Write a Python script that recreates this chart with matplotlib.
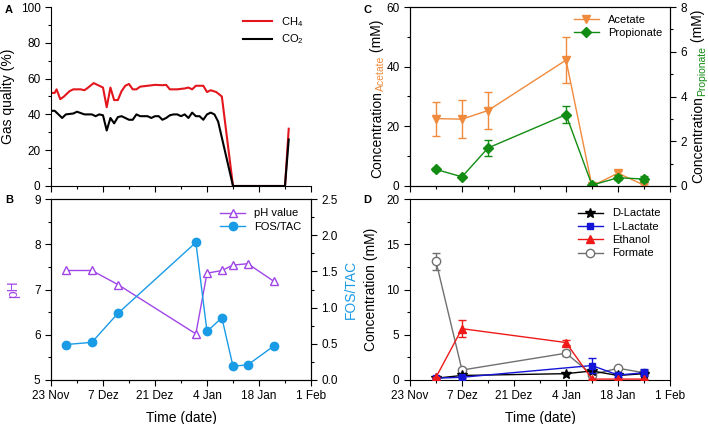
import matplotlib
matplotlib.use("Agg")
import matplotlib.pyplot as plt
import matplotlib.dates as mdates
from matplotlib.ticker import MultipleLocator, AutoMinorLocator
import numpy as np
import pandas as pd

plt.rcParams['font.family'] = ['Liberation Sans', 'DejaVu Sans']
plt.rcParams['mathtext.fontset'] = 'custom'
plt.rcParams['mathtext.rm'] = 'Liberation Sans'
plt.rcParams['mathtext.it'] = 'Liberation Sans'

START = '2016-11-23'

# panel A: gas quality, days after 23 Nov
gas_days = [0, 1, 1.5, 2.5, 3.5, 5, 6, 8, 9, 10, 11.5, 13, 14, 15, 16, 17, 18, 19, 20, 21,
            22, 23, 24, 26, 28, 30, 31, 32, 34, 36, 37, 38, 39, 41, 42, 43, 44.5, 46, 49, 63, 64]
ch4 = [52, 52, 54, 48.5, 50, 53, 54, 54, 53.5, 55, 57.5, 56, 55, 44, 55, 48, 48, 53, 56, 57,
       54, 54, 55.5, 56, 56.5, 56.3, 56.5, 54, 54, 54.5, 55, 54, 56, 56, 52.5, 53.5, 52.5, 50, 0, 0, 32]
co2_days = [0, 1, 3, 4, 6, 7, 9, 11, 12, 13, 14, 15, 16, 17, 18, 19, 21, 22, 23, 24, 26, 27,
            28, 29, 30, 31, 32, 33, 34, 35, 36, 37, 38, 39, 40, 41, 42, 43, 44, 45, 49, 63, 64]
co2 = [42, 42, 38, 40, 40.5, 41.5, 40, 40, 39, 40, 39.5, 31, 38, 35, 38.5, 39, 37, 37, 40, 39,
       39, 38, 39, 39, 37, 38, 39.5, 40, 40, 39, 40, 38, 41, 39, 39, 37, 40, 41, 40, 36, 0, 0, 26]

# panel B: pH and FOS/TAC
b_dates = ['2016-11-27', '2016-12-04', '2016-12-11', '2017-01-01', '2017-01-04',
           '2017-01-08', '2017-01-11', '2017-01-15', '2017-01-22']
ph = [7.42, 7.42, 7.11, 6.02, 7.36, 7.42, 7.54, 7.57, 7.18]
fos_tac = [0.49, 0.52, 0.92, 1.90, 0.67, 0.86, 0.19, 0.21, 0.47]

# panels C and D: sampling dates
cd_dates = ['2016-11-30', '2016-12-07', '2016-12-14', '2017-01-04',
            '2017-01-11', '2017-01-18', '2017-01-25']
acetate = [22.6, 22.4, 25.3, 42.2, 0.0, 4.3, 0.3]
acetate_err = [5.7, 6.3, 6.1, 7.7, 0.3, 0.8, 0.3]
propionate = [0.74, 0.41, 1.70, 3.19, 0.04, 0.37, 0.31]
propionate_err = [0.05, 0.05, 0.36, 0.37, 0.05, 0.1, 0.15]

d_lac_dates = ['2016-11-30', '2016-12-07', '2017-01-04', '2017-01-11', '2017-01-18', '2017-01-25']
d_lactate = [0.2, 0.5, 0.7, 1.0, 0.5, 0.7]
l_lac_dates = ['2016-11-30', '2016-12-07', '2017-01-11', '2017-01-18', '2017-01-25']
l_lactate = [0.2, 0.3, 1.6, 0.55, 0.8]
l_lactate_err = [0.05, 0.1, 0.8, 0.2, 0.4]
e_dates = ['2016-11-30', '2016-12-07', '2017-01-04', '2017-01-11', '2017-01-18', '2017-01-25']
ethanol = [0.3, 5.67, 4.14, 0.1, 0.1, 0.1]
ethanol_err = [0.05, 0.95, 0.3, 0.05, 0.05, 0.05]
f_dates = ['2016-11-30', '2016-12-07', '2017-01-04', '2017-01-11', '2017-01-18', '2017-01-25']
formate = [13.1, 1.1, 2.96, 0.6, 1.3, 0.8]
formate_err = [0.9, 0.1, 0.3, 0.1, 0.1, 0.3]

tick_dates = ['2016-11-23', '2016-12-07', '2016-12-21', '2017-01-04', '2017-01-18', '2017-02-01']
tick_labels = ['23 Nov', '7 Dez', '21 Dez', '4 Jan', '18 Jan', '1 Feb']

c_red = '#e3161e'
c_purple = '#a046e8'
c_blue_ft = '#1a9be6'
c_orange = '#f08a3c'
c_green = '#138c13'
c_lblue = '#1515d8'
c_eth = '#ee1a1a'
c_grey = '#707070'


def dates(lst):
    return pd.to_datetime(lst).to_numpy()


def days_to_dates(days):
    return (pd.Timestamp(START) + pd.to_timedelta(np.asarray(days, float), unit='D')).to_numpy()


W, H = 708, 424
fig = plt.figure(figsize=(W / 100, H / 100), dpi=100)


def add_ax(l, t, r, b):
    return fig.add_axes([l / W, 1 - b / H, (r - l) / W, (b - t) / H])


axA = add_ax(51, 7, 311, 186)
axB = add_ax(51, 199, 311, 380)
axC = add_ax(410, 7, 670, 186)
axD = add_ax(410, 199, 670, 380)

tsize = 8.5
lsize = 10


def style_x(ax, labels=True):
    ax.set_xlim(dates(['2016-11-23'])[0], dates(['2017-02-01'])[0])
    ax.set_xticks(mdates.date2num(dates(tick_dates)))
    if labels:
        ax.set_xticklabels(tick_labels)
        ax.set_xlabel('Time (date)', fontsize=lsize, labelpad=6)
    else:
        ax.set_xticklabels([])
    ax.xaxis.set_minor_locator(AutoMinorLocator(2))


def style_ticks(ax):
    ax.tick_params(which='major', direction='out', length=4, width=0.8, labelsize=tsize)
    ax.tick_params(which='minor', direction='out', length=2, width=0.8)
    ax.tick_params(top=False, right=False, which='both')


leg_kw = dict(loc='upper right', frameon=False, fontsize=8, handlelength=2.3,
              labelspacing=0.3, borderaxespad=0.45)

# ---- A
axA.plot(days_to_dates(gas_days), ch4, color=c_red, lw=1.5, label='CH$_4$')
axA.plot(days_to_dates(co2_days), co2, color='black', lw=1.5, label='CO$_2$')
axA.set_ylim(0, 100)
axA.yaxis.set_major_locator(MultipleLocator(20))
axA.yaxis.set_minor_locator(MultipleLocator(10))
style_x(axA, labels=False)
style_ticks(axA)
axA.spines['top'].set_visible(False)
axA.spines['right'].set_visible(False)
axA.set_ylabel('Gas quality (%)', fontsize=lsize, labelpad=4)
axA.legend(loc='upper right', frameon=False, fontsize=8, handlelength=2.6,
           labelspacing=0.35, borderaxespad=0.3)

# ---- B
axB2 = axB.twinx()
l1, = axB.plot(dates(b_dates), ph, color=c_purple, lw=1, marker='^', ms=6,
               mfc='white', mec=c_purple, label='pH value')
l2, = axB2.plot(dates(b_dates), fos_tac, color=c_blue_ft, lw=1, marker='o', ms=6,
                label='FOS/TAC')
axB.set_ylim(5, 9)
axB.yaxis.set_major_locator(MultipleLocator(1))
axB.yaxis.set_minor_locator(MultipleLocator(0.5))
axB2.set_ylim(0, 2.5)
axB2.yaxis.set_major_locator(MultipleLocator(0.5))
axB2.yaxis.set_minor_locator(MultipleLocator(0.25))
axB2.yaxis.set_major_formatter(plt.FormatStrFormatter('%.1f'))
style_x(axB)
style_ticks(axB)
style_ticks(axB2)
axB2.tick_params(right=True, which='both')
axB.set_ylabel('pH', fontsize=lsize, color=c_purple, labelpad=10)
axB2.set_ylabel('FOS/TAC', fontsize=lsize, color=c_blue_ft, labelpad=4)
axB2.legend(handles=[l1, l2], **leg_kw)

# ---- C
axC2 = axC.twinx()
ea = axC.errorbar(dates(cd_dates), acetate, yerr=acetate_err, color=c_orange, lw=1,
                  marker='v', ms=6, capsize=3, elinewidth=1, capthick=1)
ep = axC2.errorbar(dates(cd_dates), propionate, yerr=propionate_err, color=c_green, lw=1,
                   marker='D', ms=5, capsize=3, elinewidth=1, capthick=1)
axC.set_ylim(0, 60)
axC.yaxis.set_major_locator(MultipleLocator(20))
axC.yaxis.set_minor_locator(MultipleLocator(10))
axC2.set_ylim(0, 8)
axC2.yaxis.set_major_locator(MultipleLocator(2))
axC2.yaxis.set_minor_locator(MultipleLocator(1))
style_x(axC, labels=False)
style_ticks(axC)
style_ticks(axC2)
axC2.tick_params(right=True, which='both')
axC2.legend([ea[0], ep[0]], ['Acetate', 'Propionate'], loc='upper right',
            frameon=False, fontsize=8, handlelength=2.3, labelspacing=0.3, borderaxespad=0.3)

# ---- D
ef = axD.errorbar(dates(f_dates), formate, yerr=formate_err, color=c_grey, lw=1, marker='o', ms=6,
                  mfc='white', mec=c_grey, capsize=3, elinewidth=1, capthick=1, zorder=2)
ld, = axD.plot(dates(d_lac_dates), d_lactate, color='black', lw=1, marker='*', ms=7, zorder=3)
el = axD.errorbar(dates(l_lac_dates), l_lactate, yerr=l_lactate_err, color=c_lblue, lw=1,
                  marker='s', ms=5, capsize=3, elinewidth=1, capthick=1, zorder=4)
ee = axD.errorbar(dates(e_dates), ethanol, yerr=ethanol_err, color=c_eth, lw=1, marker='^', ms=6,
                  capsize=3, elinewidth=1, capthick=1, zorder=5)
axD.set_ylim(0, 20)
axD.yaxis.set_major_locator(MultipleLocator(5))
axD.yaxis.set_minor_locator(MultipleLocator(2.5))
style_x(axD)
style_ticks(axD)
axD.set_ylabel('Concentration (mM)', fontsize=lsize, labelpad=6)
axD.legend([ld, el[0], ee[0], ef[0]], ['D-Lactate', 'L-Lactate', 'Ethanol', 'Formate'], **leg_kw)

# multi-coloured rotated labels for panel C
renderer = fig.canvas.get_renderer()


def vlabel(x_px, y_px, parts):
    # parts: (text, color, size, shift px toward the glyph bottom)
    y = y_px
    for txt, col, size, shift in parts:
        t = fig.text((x_px + shift) / W, y / H, txt, rotation=90, rotation_mode='anchor',
                     ha='left', va='baseline', color=col, fontsize=size)
        y += t.get_window_extent(renderer).height


vlabel(381, H - 178, [('Concentration', 'black', lsize, 0),
                      ('Acetate', c_orange, 7.5, 3),
                      (' (mM)', 'black', lsize, 0)])
vlabel(702, H - 183, [('Concentration', 'black', lsize, 0),
                      ('Propionate', c_green, 7.5, 3),
                      (' (mM)', 'black', lsize, 0)])

for lab_, x, y in [('A', 9, 10), ('B', 9, 200), ('C', 367, 10), ('D', 367, 200)]:
    fig.text(x / W, 1 - y / H, lab_, fontsize=8, fontweight='bold', va='center', ha='center')

fig.savefig('out.png', dpi=100)
